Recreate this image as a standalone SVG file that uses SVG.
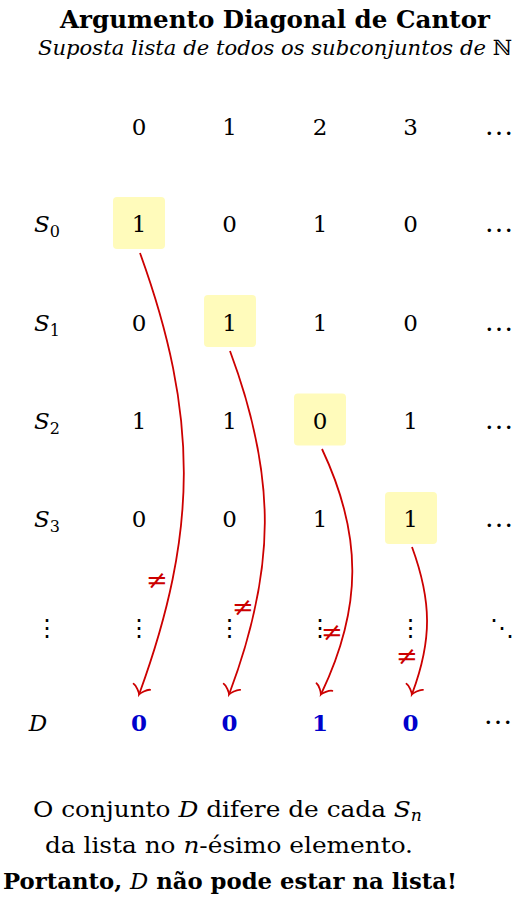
<svg xmlns="http://www.w3.org/2000/svg" width="522" height="903" viewBox="0 0 522 903">
<defs>
<marker id="to" markerUnits="userSpaceOnUse" viewBox="-12 -12 24 24" markerWidth="24" markerHeight="24" refX="0" refY="0" orient="auto" overflow="visible">
<path d="M -6.6,-8.8 C -6,-5.5 0,-0.55 1.65,0 C 0,0.55 -6,5.5 -6.6,8.8" fill="none" stroke="#cc0000" stroke-width="1.8" stroke-linecap="round"/>
</marker>
<style>
text { font-family: "DejaVu Serif", "Liberation Serif", serif; fill: #000; }
.c { font-size: 23px; text-anchor: middle; }
.it { font-style: italic; }
.sub { font-size: 16px; }
.box { fill: #fffbbb; }
.arr { fill: none; stroke: #cc0000; stroke-width: 1.8; marker-end: url(#to); }
.ne { fill: #cc0000; font-size: 26px; text-anchor: middle; }
.d { fill: #0000cc; font-weight: bold; }
.vd { font-family: "DejaVu Sans", sans-serif; font-size: 24px; text-anchor: middle; }
.el { font-family: "Liberation Serif", serif; font-size: 29px; text-anchor: middle; }
</style>
</defs>
<rect width="522" height="903" fill="#fff"/>

<g id="title">
<text x="275" y="28" font-size="25" font-weight="bold" text-anchor="middle" textLength="430" lengthAdjust="spacingAndGlyphs">Argumento Diagonal de Cantor</text>
</g>
<g id="subtitle">
<text x="275" y="55" font-size="21" text-anchor="middle" textLength="474" lengthAdjust="spacingAndGlyphs"><tspan class="it">Suposta lista de todos os subconjuntos de </tspan><tspan>ℕ</tspan></text>
</g>

<g id="header">
<text class="c" x="139" y="135">0</text>
<text class="c" x="229.5" y="135">1</text>
<text class="c" x="320" y="135">2</text>
<text class="c" x="410.5" y="135">3</text>
<text class="el" x="499" y="135">…</text>
</g>

<g id="boxes">
<rect id="box0" class="box" x="113" y="197" width="52" height="52" rx="4"/>
<rect id="box1" class="box" x="204" y="295" width="52" height="52" rx="4"/>
<rect id="box2" class="box" x="294" y="393.5" width="52" height="52" rx="4"/>
<rect id="box3" class="box" x="385" y="492" width="52" height="52" rx="4"/>
</g>

<g id="row-S0">
<text class="c" x="47" y="232"><tspan class="it">S</tspan><tspan class="sub" dy="5">0</tspan></text>
<text class="c" x="139" y="232">1</text>
<text class="c" x="229.5" y="232">0</text>
<text class="c" x="320" y="232">1</text>
<text class="c" x="410.5" y="232">0</text>
<text class="el" x="499" y="232">…</text>
</g>
<g id="row-S1">
<text class="c" x="47" y="331"><tspan class="it">S</tspan><tspan class="sub" dy="5">1</tspan></text>
<text class="c" x="139" y="331">0</text>
<text class="c" x="229.5" y="331">1</text>
<text class="c" x="320" y="331">1</text>
<text class="c" x="410.5" y="331">0</text>
<text class="el" x="499" y="331">…</text>
</g>
<g id="row-S2">
<text class="c" x="47" y="429"><tspan class="it">S</tspan><tspan class="sub" dy="5">2</tspan></text>
<text class="c" x="139" y="429">1</text>
<text class="c" x="229.5" y="429">1</text>
<text class="c" x="320" y="429">0</text>
<text class="c" x="410.5" y="429">1</text>
<text class="el" x="499" y="429">…</text>
</g>
<g id="row-S3">
<text class="c" x="47" y="527"><tspan class="it">S</tspan><tspan class="sub" dy="5">3</tspan></text>
<text class="c" x="139" y="527">0</text>
<text class="c" x="229.5" y="527">0</text>
<text class="c" x="320" y="527">1</text>
<text class="c" x="410.5" y="527">1</text>
<text class="el" x="499" y="527">…</text>
</g>
<g id="row-dots">
<text class="vd" x="47" y="636">⋮</text>
<text class="vd" x="139" y="636">⋮</text>
<text class="vd" x="229.5" y="636">⋮</text>
<text class="vd" x="320" y="636">⋮</text>
<text class="vd" x="410.5" y="636">⋮</text>
<text class="vd" x="502" y="636">⋱</text>
</g>
<g id="row-D">
<text class="c it" x="38" y="731">D</text>
<text class="c d" x="139" y="731">0</text>
<text class="c d" x="229.5" y="731">0</text>
<text class="c d" x="320" y="731">1</text>
<text class="c d" x="410.5" y="731">0</text>
<text class="el" x="498" y="724">…</text>
</g>

<g id="connectors">
<path class="arr" d="M140,253 C199,416 198,532 139.6,693"/>
<path class="arr" d="M230,351 C277,477 276,569 229.6,693"/>
<path class="arr" d="M322,449 C363,536 362,608 321.6,693"/>
<path class="arr" d="M412,547 C432,601.5 432,640.5 412.4,693"/>
</g>

<g id="neq-labels">
<text class="ne" x="157" y="589">≠</text>
<text class="ne" x="243" y="616">≠</text>
<text class="ne" x="332" y="641">≠</text>
<text class="ne" x="407" y="665">≠</text>
</g>

<g id="caption">
<text x="227.5" y="817" font-size="23" text-anchor="middle" textLength="389" lengthAdjust="spacingAndGlyphs">O conjunto <tspan class="it">D</tspan> difere de cada <tspan class="it">S</tspan><tspan class="it sub" dy="4">n</tspan></text>
<text x="229" y="853" font-size="23" text-anchor="middle" textLength="368" lengthAdjust="spacingAndGlyphs">da lista no <tspan class="it">n</tspan>-ésimo elemento.</text>
<text x="230" y="889" font-size="23" font-weight="bold" text-anchor="middle" textLength="454" lengthAdjust="spacingAndGlyphs">Portanto, <tspan class="it" font-weight="normal">D</tspan> não pode estar na lista!</text>
</g>
</svg>
